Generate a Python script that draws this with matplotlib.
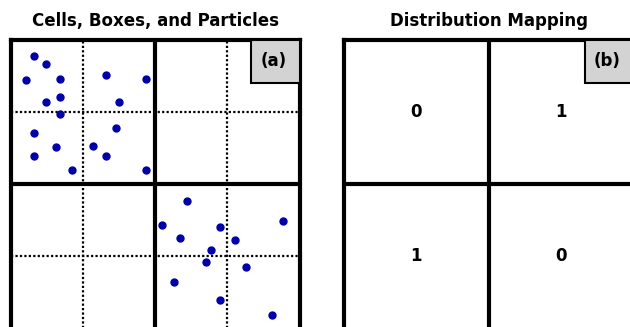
import matplotlib.pyplot as plt
from matplotlib.patches import Rectangle

plt.rcParams['font.family'] = ['DejaVu Sans']

# particle positions in cell units (x right, y down), 4x4 cells per panel
px_top = [0.32, 0.49, 0.22, 0.69, 1.32, 1.87, 0.49, 0.69, 1.50, 0.69,
          1.46, 0.33, 0.63, 1.14, 0.33, 1.32, 0.85, 1.87]
py_top = [0.23, 0.34, 0.56, 0.55, 0.49, 0.55, 0.87, 0.80, 0.87, 1.03,
          1.22, 1.29, 1.48, 1.47, 1.61, 1.61, 1.81, 1.81]
px_bot = [2.44, 2.10, 3.77, 2.90, 2.35, 3.11, 2.77, 2.70, 3.26, 2.26, 2.90, 3.62]
py_bot = [2.23, 2.57, 2.51, 2.60, 2.74, 2.77, 2.91, 3.08, 3.15, 3.36, 3.60, 3.81]

# box -> rank mapping
box_x = [1, 3, 1, 3]
box_y = [1, 1, 3, 3]
ranks = ['0', '1', '1', '0']

titles = ['Cells, Boxes, and Particles', 'Distribution Mapping']
tags = ['(a)', '(b)']

W, H = 630, 327
fig = plt.figure(figsize=(6.3, 3.27), dpi=100)

size = 289.2
lefts = [10.5, 344]
top = 39.5

for i in range(2):
    ax = fig.add_axes([lefts[i] / W, 1 - (top + size) / H, size / W, size / H])
    ax.set_xlim(0, 4)
    ax.set_ylim(4, 0)
    ax.set_xticks([])
    ax.set_yticks([])
    for s in ax.spines.values():
        s.set_linewidth(3)
    if i == 0:
        # cell boundaries inside each box
        for v in [1, 3]:
            ax.axvline(v, color='k', lw=1.6, ls=(0, (1, 1)))
            ax.axhline(v, color='k', lw=1.6, ls=(0, (1, 1)))
    ax.axvline(2, color='k', lw=3)
    ax.axhline(2, color='k', lw=3)
    if i == 0:
        ax.plot(px_top, py_top, 'o', color='#0000a8', ms=5, zorder=5)
        ax.plot(px_bot, py_bot, 'o', color='#0000a8', ms=5, zorder=5)
    else:
        for x, y, r in zip(box_x, box_y, ranks):
            ax.text(x, y, r, ha='center', va='center', fontsize=12, fontweight='bold')
    ax.add_patch(Rectangle((3.33, 0), 0.67, 0.6, facecolor='#d3d3d3',
                           edgecolor='k', lw=1.5, zorder=6))
    ax.text(3.64, 0.30, tags[i], ha='center', va='center', fontsize=12,
            fontweight='bold', zorder=7)
    fig.text((lefts[i] + size / 2) / W, 1 - 21 / H, titles[i], ha='center',
             va='center', fontsize=12, fontweight='bold')

fig.savefig('out.png', dpi=100)
